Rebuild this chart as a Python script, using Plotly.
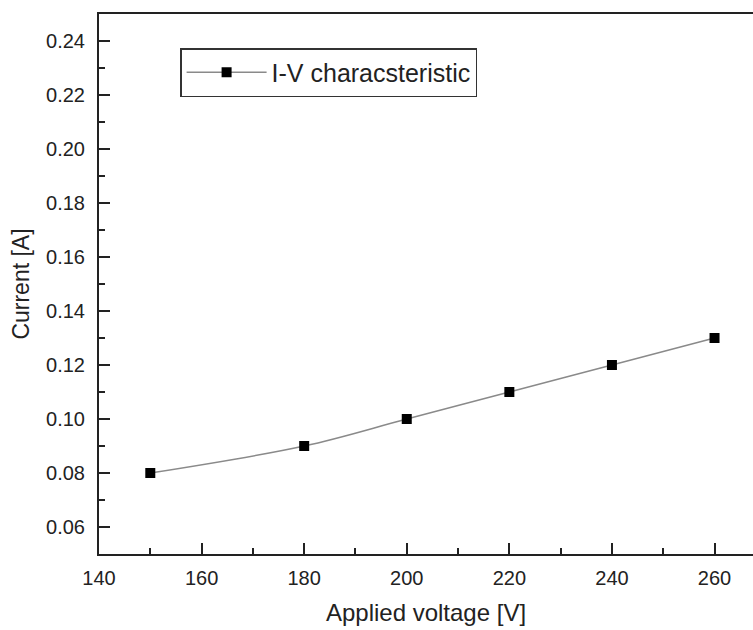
import plotly.graph_objects as go

voltage = [150, 180, 200, 220, 240, 260]
current = [0.080, 0.090, 0.100, 0.110, 0.120, 0.130]
series_name = "I-V characsteristic"
x_title = "Applied voltage [V]"
y_title = "Current [A]"

fig = go.Figure()
fig.add_trace(go.Scatter(
    x=voltage, y=current, name=series_name,
    mode="lines+markers",
    line=dict(color="#8a8a8a", width=1.5, shape="spline"),
    marker=dict(symbol="square", size=10, color="black"),
    showlegend=True,
))

font_family = "Liberation Sans, Arial, sans-serif"

fig.update_layout(
    width=753, height=630,
    margin=dict(l=99, r=0, t=14, b=76),
    plot_bgcolor="white", paper_bgcolor="white",
    font=dict(family=font_family, color="#222"),
    showlegend=True,
    legend=dict(
        x=0.124, y=0.937, xanchor="left", yanchor="top",
        bordercolor="#333", borderwidth=1.5, bgcolor="white",
        font=dict(size=25, family=font_family, color="#222"),
        itemwidth=80,
        tracegroupgap=0,
    ),
    xaxis=dict(
        range=[140, 267.5],
        tick0=140, dtick=20,
        ticks="inside", ticklen=11, tickwidth=1.5, tickcolor="#222",
        minor=dict(dtick=10, ticks="inside", ticklen=6, tickwidth=1.5, tickcolor="#222"),
        showline=True, linecolor="#222", linewidth=2, mirror=True,
        showgrid=False, zeroline=False,
        tickfont=dict(size=20),
        ticklabelstandoff=5,
        title=dict(text=x_title, font=dict(size=24), standoff=16),
    ),
    yaxis=dict(
        range=[0.05, 0.25],
        tick0=0.06, dtick=0.02, tickformat=".2f",
        ticks="inside", ticklen=11, tickwidth=1.5, tickcolor="#222",
        minor=dict(dtick=0.01, ticks="inside", ticklen=6, tickwidth=1.5, tickcolor="#222"),
        showline=True, linecolor="#222", linewidth=2, mirror=False,
        showgrid=False, zeroline=False,
        tickfont=dict(size=20),
        ticklabelstandoff=8,
        title=dict(text=y_title, font=dict(size=23), standoff=10),
    ),
)

fig.write_html("out.html")
